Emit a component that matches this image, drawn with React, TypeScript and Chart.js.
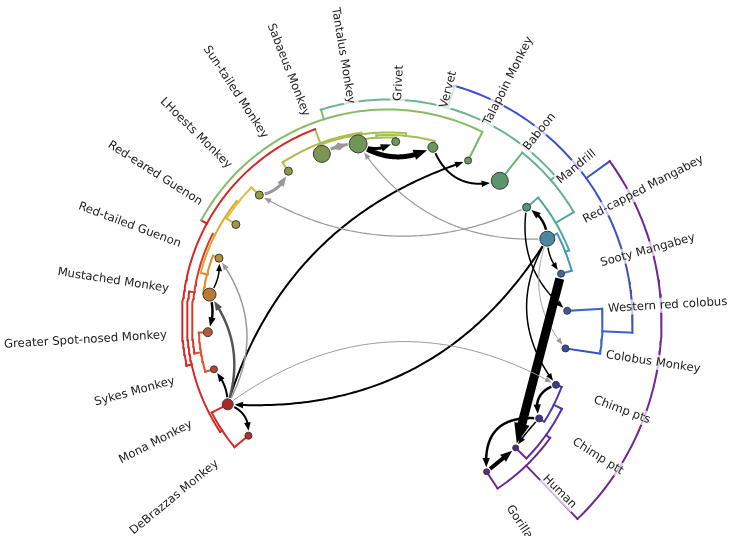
import { useEffect, useRef } from "react";
import { Chart, registerables } from "chart.js";
Chart.register(...registerables);

// ---------- leaves ----------
const leafNames = [
  "DeBrazzas Monkey", "Mona Monkey", "Sykes Monkey", "Greater Spot-nosed Monkey",
  "Mustached Monkey", "Red-tailed Guenon", "Red-eared Guenon", "LHoests Monkey",
  "Sun-tailed Monkey", "Sabaeus Monkey", "Tantalus Monkey", "Grivet", "Vervet",
  "Talapoin Monkey", "Baboon", "Mandrill", "Red-capped Mangabey", "Sooty Mangabey",
  "Western red colobus", "Colobus Monkey", "Chimp pts", "Chimp ptt", "Human", "Gorilla",
];
const leafAngleStart = 219.4; // degrees
const leafAngleStep = -12;
const leafRadius = 180;
const labelRadius = 221;
const dotSizes = [3.5, 5.5, 3.5, 4.5, 6.5, 4, 4, 4, 4, 8.5, 9, 4, 5, 3.5, 8.5, 4, 7.5, 3.5, 3.5, 3.5, 3.5, 3.5, 3, 3];
const dotColors = [
  "#b8302b", "#a82826", "#b8432f", "#b95a35", "#b87a35", "#b0903c", "#a3983f", "#969a42",
  "#8a9a46", "#7a9650", "#6f9655", "#6e9858", "#6a9a5a", "#669a60", "#5a966c", "#52967e",
  "#4a88a0", "#40699a", "#3f5aa0", "#3a4aa0", "#3a3a98", "#3c3490", "#4a2a88", "#5a2a80",
];
const leafLineColors = [
  "#d62a24", "#d62a24", "#e0502e", "#e05a30", "#e0802a", "#e0a030", "#d6b83a", "#d0c040",
  "#b8bc44", "#a8c04a", "#a0c050", "#9ac258", "#90c060", "#7ab868", "#66b27c", "#5aaa94",
  "#4aa0b4", "#3f88c8", "#3c66cc", "#3a4ec4", "#4438b8", "#4a30b0", "#5a2aa0", "#6e2890",
];

// ---------- internal nodes (children: leaf index or node id) ----------
const nodeIds = [
  "M1", "S1", "T1", "T2", "T3", "Y", "CB", "TG", "TGV", "X", "CA", "C1", "G2",
  "P3", "P2", "P1", "G1", "Col", "B", "Chimp", "HC", "H", "Root",
];
const nodeKids: (number | string)[][] = [
  [0, 1], [2, 3], [4, 5], [6, 7], ["T1", "T2"], ["S1", "T3"], ["M1", "Y"],
  [10, 11], ["TG", 12], [9, "TGV"], [8, "X"], ["CB", "CA"], ["C1", 13],
  [16, 17], [15, "P3"], [14, "P2"], ["G2", "P1"], [18, 19], ["G1", "Col"],
  [20, 21], [22, "Chimp"], [23, "HC"], ["B", "H"],
];
const nodeRadii = [
  198, 189, 186.5, 191, 193, 195.5, 200.5, 184, 186.5, 189, 190.5, 205.5, 212,
  191, 195, 216, 222, 215, 245, 186, 195, 200, 274,
];
const nodeColors = [
  "#d42a28", "#e0502e", "#e0882a", "#d8c040", "#e0a830", "#d83a2a", "#d42a28",
  "#a0c050", "#a0c058", "#a8c04c", "#b0b848", "#d62828", "#86bc68",
  "#4698c0", "#52a8a0", "#64b08a", "#6cb490", "#3c62d0", "#3c50c8",
  "#4838b8", "#5a2ca8", "#6a2890", "#702690",
];

// ---------- transmissions ----------
const arrowFrom = [
  "Tantalus Monkey", "Tantalus Monkey", "Tantalus Monkey", "Sabaeus Monkey", "Vervet",
  "Mona Monkey", "LHoests Monkey", "Mandrill", "Red-capped Mangabey", "Red-capped Mangabey",
  "Mandrill", "Red-capped Mangabey", "Red-capped Mangabey", "Red-capped Mangabey",
  "Red-capped Mangabey", "Sooty Mangabey", "Chimp pts", "Chimp ptt", "Gorilla", "Chimp ptt",
  "Mona Monkey", "Mona Monkey", "Mona Monkey", "Mona Monkey", "Mona Monkey",
  "Mustached Monkey", "Mustached Monkey",
];
const arrowTo = [
  "Vervet", "Grivet", "Sabaeus Monkey", "Tantalus Monkey", "Baboon",
  "Talapoin Monkey", "Sun-tailed Monkey", "LHoests Monkey", "Tantalus Monkey", "Mandrill",
  "Western red colobus", "Sooty Mangabey", "Colobus Monkey", "Chimp pts",
  "Mona Monkey", "Human", "Chimp ptt", "Gorilla", "Human", "Human",
  "Chimp pts", "Sykes Monkey", "DeBrazzas Monkey", "Mustached Monkey", "Red-tailed Guenon",
  "Greater Spot-nosed Monkey", "Red-tailed Guenon",
];
const arrowWidths = [
  5, 3, 3, 3, 2,
  2, 3, 1.2, 1.2, 2.5,
  1.5, 1.5, 1, 1.5,
  2, 9, 2.5, 2.5, 4, 1.5,
  1, 2, 2, 2.5, 1.5,
  2.5, 1.5,
];
const arrowColors = [
  "#000", "#000", "#999", "#999", "#000",
  "#000", "#999", "#999", "#999", "#000",
  "#000", "#000", "#999", "#000",
  "#000", "#000", "#000", "#000", "#000", "#000",
  "#999", "#000", "#000", "#555", "#999",
  "#000", "#000",
];
const arrowBends = [
  0.3, 0.3, 0.15, -0.15, 0.45,
  -0.26, 0.3, -0.26, -0.29, 0.3,
  0.29, 0.2, 0.3, 0.34,
  -0.3, 0, 0.5, 0.6, 0, 0.05,
  -0.32, 0.2, -0.4, 0.26, 0.32,
  -0.2, 0.2,
];

// ---------- geometry helpers ----------
const toRad = (d: number) => (d * Math.PI) / 180;
const leafAngle = (i: number) => leafAngleStart + leafAngleStep * i;
const polar = (r: number, a: number) => ({ x: r * Math.cos(toRad(a)), y: r * Math.sin(toRad(a)) });

function buildTree() {
  const angle: Record<string, number> = {};
  const radius: Record<string, number> = {};
  const color: Record<string, string> = {};
  const parent: Record<string, string> = {};
  leafNames.forEach((_, i) => {
    angle["L" + i] = leafAngle(i);
    radius["L" + i] = leafRadius;
    color["L" + i] = leafLineColors[i];
  });
  const key = (k: number | string) => (typeof k === "number" ? "L" + k : k);
  nodeIds.forEach((id, n) => {
    const kids = nodeKids[n].map(key);
    kids.forEach((k) => (parent[k] = id));
    angle[id] = (angle[kids[0]] + angle[kids[1]]) / 2;
    radius[id] = nodeRadii[n];
    color[id] = nodeColors[n];
  });
  return { angle, radius, color, parent, key };
}

function buildDatasets() {
  const { angle, radius, color, parent, key } = buildTree();
  const ds: any[] = [];
  ds.push({
    data: leafNames.map((_, i) => polar(leafRadius, leafAngle(i))),
    pointRadius: dotSizes,
    pointBackgroundColor: dotColors,
    pointBorderColor: "#3a3a3a",
    pointBorderWidth: 1,
    showLine: false,
  });
  nodeIds.forEach((id, n) => {
    const kids = nodeKids[n].map(key);
    const a1 = angle[kids[0]], a2 = angle[kids[1]];
    const steps = Math.max(2, Math.ceil(Math.abs(a2 - a1)));
    const pts = [];
    for (let s = 0; s <= steps; s++) pts.push(polar(radius[id], a1 + ((a2 - a1) * s) / steps));
    ds.push({ data: pts, showLine: true, borderColor: color[id], borderWidth: 2, pointRadius: 0, borderCapStyle: "square" });
  });
  Object.keys(parent).forEach((k) => {
    const p = parent[k];
    ds.push({
      data: [polar(radius[k], angle[k]), polar(radius[p], angle[k])],
      showLine: true, borderColor: color[k], borderWidth: 2, pointRadius: 0, borderCapStyle: "square",
    });
  });
  return ds;
}

function drawArrow(ctx: CanvasRenderingContext2D, p1: any, p2: any, bend: number, w: number, col: string, shrinkA: number, shrinkB: number) {
  const dx = p2.x - p1.x, dy = p2.y - p1.y;
  const c = { x: (p1.x + p2.x) / 2 - bend * dy, y: (p1.y + p2.y) / 2 + bend * dx };
  const N = 120;
  const pts: { x: number; y: number; l: number }[] = [];
  let L = 0;
  for (let i = 0; i <= N; i++) {
    const t = i / N, u = 1 - t;
    const x = u * u * p1.x + 2 * u * t * c.x + t * t * p2.x;
    const y = u * u * p1.y + 2 * u * t * c.y + t * t * p2.y;
    if (i > 0) L += Math.hypot(x - pts[i - 1].x, y - pts[i - 1].y);
    pts.push({ x, y, l: L });
  }
  const at = (l: number) => {
    for (let i = 1; i < pts.length; i++) {
      if (pts[i].l >= l) {
        const a = pts[i - 1], b = pts[i];
        const f = (l - a.l) / (b.l - a.l || 1);
        return { x: a.x + (b.x - a.x) * f, y: a.y + (b.y - a.y) * f };
      }
    }
    return pts[pts.length - 1];
  };
  const headLen = 5 + 1.7 * w;
  const headW = 4 + 1.3 * w;
  const start = shrinkA, end = L - shrinkB;
  const lineEnd = end - headLen * 0.85;
  ctx.save();
  ctx.strokeStyle = col;
  ctx.fillStyle = col;
  ctx.lineWidth = w;
  ctx.lineCap = "butt";
  ctx.beginPath();
  const s = at(start);
  ctx.moveTo(s.x, s.y);
  for (const p of pts) if (p.l > start && p.l < lineEnd) ctx.lineTo(p.x, p.y);
  const le = at(lineEnd);
  ctx.lineTo(le.x, le.y);
  ctx.stroke();
  const tip = at(end), base = at(end - headLen);
  const n = Math.hypot(tip.x - base.x, tip.y - base.y) || 1;
  const ux = (tip.x - base.x) / n, uy = (tip.y - base.y) / n;
  const bx = tip.x - ux * headLen, by = tip.y - uy * headLen;
  ctx.beginPath();
  ctx.moveTo(tip.x, tip.y);
  ctx.lineTo(bx - uy * headW / 2, by + ux * headW / 2);
  ctx.lineTo(bx + uy * headW / 2, by - ux * headW / 2);
  ctx.closePath();
  ctx.fill();
  ctx.restore();
}

const arrowPlugin = {
  id: "transmissions",
  afterDatasetsDraw(chart: any) {
    const ctx = chart.ctx, xs = chart.scales.x, ys = chart.scales.y;
    const px = (name: string) => {
      const i = leafNames.indexOf(name);
      const p = polar(leafRadius, leafAngle(i));
      return { x: xs.getPixelForValue(p.x), y: ys.getPixelForValue(p.y), r: dotSizes[i] };
    };
    arrowFrom.forEach((f, k) => {
      const a = px(f), b = px(arrowTo[k]);
      drawArrow(ctx, a, b, arrowBends[k], arrowWidths[k], arrowColors[k], a.r + 1.5, b.r + 1.5);
    });
  },
};

const labelPlugin = {
  id: "leafLabels",
  afterDraw(chart: any) {
    const ctx = chart.ctx, xs = chart.scales.x, ys = chart.scales.y;
    ctx.save();
    ctx.font = "11.7px 'DejaVu Sans'";
    ctx.textBaseline = "middle";
    leafNames.forEach((name, i) => {
      const a = leafAngle(i);
      const p = polar(labelRadius, a);
      const x = xs.getPixelForValue(p.x), y = ys.getPixelForValue(p.y);
      const a360 = ((a % 360) + 360) % 360;
      const left = a360 > 90 && a360 < 270;
      ctx.save();
      ctx.translate(x, y);
      ctx.rotate(left ? -toRad(a - 180) : -toRad(a));
      const w = ctx.measureText(name).width;
      const x0 = left ? -w : 0;
      ctx.fillStyle = "rgba(255,255,255,0.7)";
      ctx.fillRect(x0 - 1, -7.5, w + 2, 15);
      ctx.fillStyle = "#222222";
      ctx.textAlign = left ? "right" : "left";
      ctx.fillText(name, 0, 0.5);
      ctx.restore();
    });
    ctx.restore();
  },
};

export default function App() {
  const ref = useRef<HTMLCanvasElement>(null);
  useEffect(() => {
    if (!ref.current) return;
    const chart = new Chart(ref.current, {
      type: "scatter",
      data: { datasets: buildDatasets() },
      options: {
        animation: false,
        responsive: true,
        maintainAspectRatio: false,
        events: [],
        layout: { padding: 0, autoPadding: false },
        plugins: { legend: { display: false }, tooltip: { enabled: false } },
        scales: {
          x: { type: "linear", display: false, min: -387.5, max: 345.5 },
          y: { type: "linear", display: false, min: -214.5, max: 321.5 },
        },
      },
      plugins: [arrowPlugin, labelPlugin],
    });
    return () => chart.destroy();
  }, []);
  return (
    <div style={{ position: "fixed", left: 0, top: 0, width: 733, height: 536, background: "#fff" }}>
      <canvas ref={ref} />
    </div>
  );
}
